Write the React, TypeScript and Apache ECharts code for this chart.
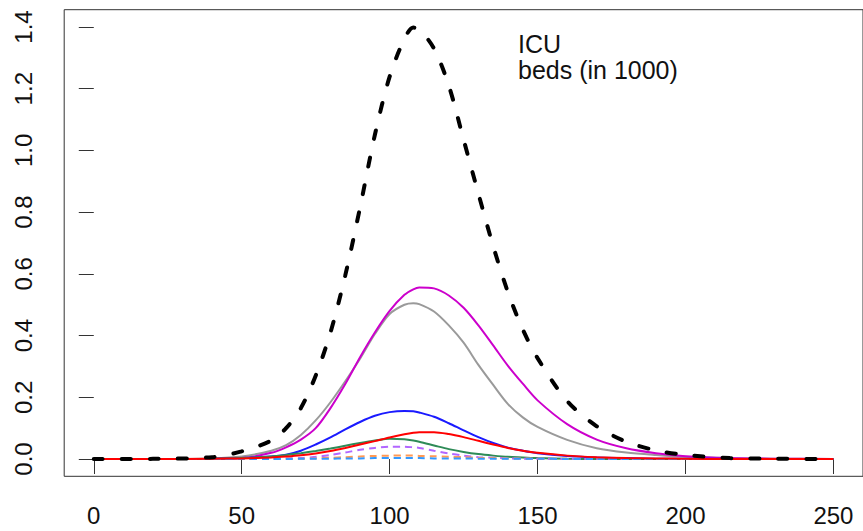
import React, { useEffect, useRef } from "react";
import * as echarts from "echarts";

// Day of the simulation at which each series is sampled
const days = [0, 20, 40, 50, 60, 65, 70, 75, 80, 85, 90, 95, 100, 105, 108, 110, 115, 120, 125, 130, 135, 140, 145, 150, 160, 170, 180, 190, 200, 215, 230, 250];

// ICU beds occupied (in 1000)
const total = [0, 0.0005, 0.006, 0.025, 0.06, 0.1, 0.165, 0.27, 0.41, 0.595, 0.815, 1.05, 1.239, 1.362, 1.398, 1.393, 1.33, 1.21, 1.035, 0.86, 0.69, 0.54, 0.42, 0.327, 0.188, 0.106, 0.056, 0.028, 0.013, 0.003, 0.001, 0];
const magentaGroup = [0, 0, 0.001, 0.003, 0.02, 0.038, 0.063, 0.1, 0.165, 0.243, 0.33, 0.41, 0.48, 0.532, 0.55, 0.556, 0.553, 0.53, 0.49, 0.433, 0.368, 0.302, 0.244, 0.19, 0.113, 0.063, 0.035, 0.019, 0.009, 0.003, 0.001, 0];
const grayGroup = [0, 0, 0.002, 0.008, 0.027, 0.045, 0.078, 0.125, 0.184, 0.252, 0.325, 0.405, 0.47, 0.5, 0.505, 0.502, 0.478, 0.433, 0.377, 0.305, 0.24, 0.178, 0.135, 0.104, 0.062, 0.035, 0.021, 0.013, 0.007, 0.003, 0.001, 0];
const blueGroup = [0, 0, 0.001, 0.003, 0.008, 0.014, 0.027, 0.047, 0.07, 0.096, 0.12, 0.14, 0.152, 0.156, 0.155, 0.151, 0.137, 0.116, 0.093, 0.071, 0.052, 0.037, 0.027, 0.019, 0.01, 0.005, 0.003, 0.001, 0.001, 0, 0, 0];
const greenGroup = [0, 0, 0.001, 0.003, 0.008, 0.013, 0.019, 0.026, 0.034, 0.043, 0.052, 0.06, 0.066, 0.064, 0.06, 0.056, 0.044, 0.032, 0.023, 0.016, 0.011, 0.007, 0.005, 0.003, 0.001, 0, 0, 0, 0, 0, 0, 0];
const redGroup = [0, 0, 0.001, 0.002, 0.005, 0.008, 0.012, 0.018, 0.026, 0.036, 0.047, 0.058, 0.07, 0.08, 0.085, 0.087, 0.087, 0.081, 0.071, 0.059, 0.047, 0.036, 0.027, 0.02, 0.011, 0.006, 0.003, 0.002, 0.001, 0, 0, 0];
const purpleDashed = [0, 0, 0, 0, 0.001, 0.002, 0.003, 0.007, 0.013, 0.021, 0.03, 0.036, 0.04, 0.04, 0.038, 0.036, 0.027, 0.018, 0.011, 0.006, 0.004, 0.002, 0.001, 0.001, 0, 0, 0, 0, 0, 0, 0, 0];
const orangeDashed = [0, 0, 0, 0, 0, 0.001, 0.001, 0.002, 0.004, 0.006, 0.008, 0.01, 0.011, 0.011, 0.011, 0.01, 0.009, 0.007, 0.006, 0.004, 0.003, 0.002, 0.002, 0.001, 0.001, 0, 0, 0, 0, 0, 0, 0];
const skyDashed = [0, 0, 0, 0, 0, 0, 0.001, 0.001, 0.001, 0.002, 0.002, 0.003, 0.003, 0.003, 0.003, 0.003, 0.002, 0.002, 0.002, 0.001, 0.001, 0.001, 0.001, 0.001, 0, 0, 0, 0, 0, 0, 0, 0];

const xTicks = [0, 50, 100, 150, 200, 250];
const yTicks = [0, 0.2, 0.4, 0.6, 0.8, 1.0, 1.2, 1.4];

const FONT = '"Liberation Sans", Arial, Helvetica, sans-serif';

const pairs = (ys: number[]) => days.map((d, i) => [d, ys[i]]);

const solid = (name: string, ys: number[], color: string) => ({
  name,
  type: "line",
  data: pairs(ys),
  smooth: 0.3,
  showSymbol: false,
  symbol: "none",
  lineStyle: { color, width: 2 },
});

const dashed = (name: string, ys: number[], color: string) => ({
  name,
  type: "line",
  data: pairs(ys),
  smooth: 0.3,
  showSymbol: false,
  symbol: "none",
  lineStyle: { color, width: 2, type: [7, 5] },
});

export default function App() {
  const ref = useRef<HTMLDivElement>(null);

  useEffect(() => {
    if (!ref.current) return;
    const chart = echarts.init(ref.current, null, { renderer: "svg" });
    chart.setOption({
      animation: false,
      backgroundColor: "#ffffff",
      grid: {
        left: 64.2,
        top: 9.7,
        width: 803.5,
        height: 466.6,
        show: true,
        borderColor: "#333333",
        borderWidth: 1,
        backgroundColor: "transparent",
      },
      xAxis: {
        type: "value",
        min: -10,
        max: 260,
        splitLine: { show: false },
        axisLine: { show: false },
        axisTick: {
          show: true,
          length: 15,
          inside: false,
          customValues: xTicks,
          lineStyle: { color: "#333333", width: 1 },
        },
        axisLabel: {
          customValues: xTicks,
          margin: 27,
          fontSize: 24,
          fontFamily: FONT,
          color: "#111111",
        },
      },
      yAxis: {
        type: "value",
        min: -0.056,
        max: 1.456,
        splitLine: { show: false },
        axisLine: { show: false },
        axisTick: {
          show: true,
          length: 15,
          inside: false,
          customValues: yTicks,
          lineStyle: { color: "#333333", width: 1 },
        },
        axisLabel: {
          customValues: yTicks,
          rotate: 90,
          margin: 29,
          fontSize: 24,
          fontFamily: FONT,
          color: "#111111",
          formatter: (v: number) => v.toFixed(1),
        },
      },
      graphic: [
        {
          type: "text",
          left: 518,
          top: 31,
          style: {
            text: "ICU\nbeds (in 1000)",
            font: `25px ${FONT}`,
            lineHeight: 26,
            fill: "#111111",
          },
        },
      ],
      series: [
        solid("gray", grayGroup, "#9a9a9a"),
        solid("magenta", magentaGroup, "#CC00CC"),
        solid("blue", blueGroup, "#1a1aff"),
        solid("green", greenGroup, "#2E8B57"),
        dashed("purple", purpleDashed, "#B266FF"),
        dashed("orange", orangeDashed, "#FF9955"),
        dashed("sky", skyDashed, "#3399FF"),
        solid("red", redGroup, "#FF0000"),
        {
          name: "total",
          type: "line",
          data: pairs(total),
          smooth: 0.3,
          showSymbol: false,
          symbol: "none",
          lineStyle: { color: "#000000", width: 4, type: [9, 19], cap: "round" },
        },
      ],
    });
    return () => chart.dispose();
  }, []);

  return (
    <div
      ref={ref}
      style={{ position: "fixed", left: 0, top: 0, width: 863, height: 531 }}
    />
  );
}
